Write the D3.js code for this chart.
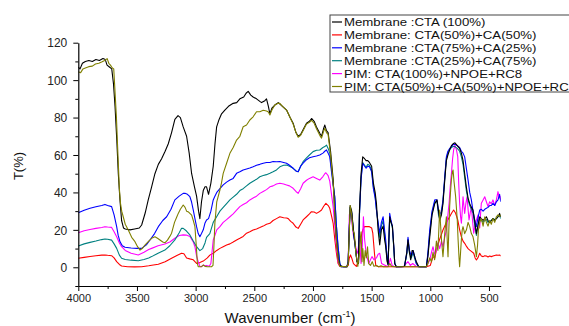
<!DOCTYPE html>
<html>
<head>
<meta charset="utf-8">
<script src="https://cdn.jsdelivr.net/npm/d3@7"></script>
<style>
  body { margin: 0; background: #fff; }
  svg { display: block; font-family: "Liberation Sans", Arial, sans-serif; }
</style>
</head>
<body>
<div id="chart"></div>
<script>
// FTIR spectra, [wavenumber, T%]
const cta100 = [[4000,107],[3985,106],[3965,109],[3940,110],[3910,110.5],[3880,110],[3850,111],[3820,110.5],[3790,111.5],[3770,111],[3755,108],[3735,107],[3715,106],[3700,98],[3687,86],[3672,68],[3659,50],[3645,36],[3631,25],[3615,21],[3600,20.5],[3560,20],[3520,20.5],[3480,21],[3460,22.6],[3430,29],[3404,36],[3375,43],[3347,50],[3318,55],[3290,58],[3260,62],[3233,66],[3205,72],[3177,79],[3150,81],[3130,80],[3106,75],[3077,70],[3055,61],[3034,50],[3010,43],[2992,38],[2975,30],[2964,26],[2950,35],[2935,41],[2920,43],[2907,43],[2890,39],[2870,45],[2850,54],[2835,66],[2821,75],[2800,79],[2779,82],[2751,84],[2720,86],[2680,87.6],[2650,88],[2623,90],[2590,91],[2570,93],[2552,94],[2530,92],[2510,91],[2481,90],[2450,88.5],[2438,88],[2410,89],[2396,90],[2380,86],[2367,82],[2350,85],[2325,86.7],[2296,88],[2260,86],[2225,84],[2195,80],[2169,77],[2145,72],[2126,70],[2105,71],[2080,74],[2055,77],[2030,78],[2012,79.5],[1990,78],[1970,75],[1942,71.6],[1927,70],[1910,74],[1899,76],[1885,73],[1871,72],[1850,62],[1828,47],[1815,30],[1800,15],[1785,5],[1771,1],[1740,0.3],[1710,0.3],[1700,2],[1690,20],[1683,33],[1670,30],[1655,20],[1640,12],[1625,3],[1612,2],[1604,30],[1590,50],[1576,59],[1560,58],[1547,57],[1533,57],[1519,56],[1500,54],[1485,45],[1470,40],[1459,34],[1445,20],[1431,12],[1417,20],[1402,22],[1390,15],[1380,11],[1368,3],[1360,1.5],[1346,27],[1335,24],[1323,22],[1310,10],[1303,2],[1290,0.3],[1250,0.3],[1220,0.5],[1200,8],[1190,14.6],[1178,8],[1167,4],[1155,9],[1147,9],[1130,5],[1119,3],[1100,0.5],[1090,0.3],[1033,0.3],[1020,6],[1005,16],[985,28],[962,34],[943,36],[930,30],[920,25],[905,28],[892,34],[875,48],[863,57],[850,60],[835,62.7],[820,65],[806,66],[790,66.5],[770,65],[750,63.5],[735,61],[721,57],[707,50],[693,43],[678,37],[664,34],[650,32],[636,30.6],[620,24],[607,18],[595,22],[579,27],[565,26],[550,25],[536,26],[522,27],[508,25],[494,24],[480,25],[466,26],[451,25],[437,26],[423,27],[409,28.8],[400,27]];

const cta50ca50 = [[4000,4.8],[3950,5.3],[3900,5.8],[3850,6.2],[3800,6.5],[3773,6.6],[3750,6.4],[3716,6.2],[3695,5],[3673,3],[3650,1.5],[3631,0.7],[3580,0.3],[3520,0.2],[3460,0.3],[3400,0.8],[3360,1.2],[3318,1.6],[3260,3],[3205,4.8],[3160,6.3],[3120,7.5],[3100,7.2],[3077,5],[3050,4.5],[3020,4],[3006,3],[2992,2.1],[2964,2.5],[2935,3.3],[2900,5],[2879,6.5],[2850,7.5],[2820,9],[2793,10.1],[2765,11],[2736,11.9],[2708,12.5],[2680,13.5],[2651,14.6],[2623,15.5],[2595,16.5],[2566,18.2],[2538,19],[2510,19.9],[2481,20.5],[2453,21.2],[2424,22],[2396,23],[2367,23.5],[2340,25],[2311,26],[2282,27],[2250,26.5],[2225,26.3],[2211,26],[2190,24.5],[2169,23.5],[2145,21.5],[2126,20.8],[2105,23],[2084,25.3],[2055,27],[2030,28.5],[2013,29.7],[1990,29.5],[1970,28.8],[1950,29.5],[1927,30.6],[1910,32.5],[1890,34.2],[1870,33],[1857,31.5],[1840,27],[1828,23.5],[1814,15],[1800,7.5],[1786,2],[1771,0.5],[1720,0.3],[1700,1],[1690,5],[1680,6.6],[1670,5],[1655,2],[1630,0.5],[1615,3],[1604,12],[1590,16],[1575,20],[1562,21.7],[1540,21.7],[1519,21.7],[1500,21],[1490,18.2],[1476,7.5],[1465,1],[1440,0.3],[1300,0.3],[1033,0.3],[1000,1],[990,3],[977,5.7],[962,5],[948,9.2],[920,15],[892,19.9],[863,24],[835,27],[818,29],[801,30.6],[785,29],[766,25.3],[750,20],[735,16.3],[721,14],[707,12.8],[690,11],[678,10],[664,9.2],[650,8.5],[630,7.5],[618,5],[607,3.9],[595,5],[579,7.5],[565,6],[550,5.7],[536,6.2],[522,6],[508,5.5],[494,6],[480,5.7],[466,6],[451,6.3],[437,6.6],[423,6.4],[409,6.6],[400,6]];

const cta75ca25 = [[4000,29.2],[3950,30.5],[3900,31.5],[3850,32.3],[3800,33],[3773,33.6],[3750,33],[3716,32.4],[3695,28],[3673,21.7],[3660,17],[3645,13.7],[3625,11.5],[3602,10.7],[3550,10.3],[3500,10.1],[3460,10.1],[3420,12],[3389,14.6],[3350,18],[3318,21.7],[3280,25],[3247,27],[3210,31],[3177,36],[3140,38],[3106,39.5],[3091,39.5],[3070,39],[3049,37.7],[3035,35],[3020,30.6],[3006,26],[2992,21.7],[2978,18],[2964,16.3],[2950,18],[2935,20],[2921,23.5],[2907,25.3],[2890,26],[2870,30],[2850,36],[2836,38],[2820,40],[2793,42],[2765,44],[2736,45.5],[2708,46.6],[2680,47.5],[2651,50.2],[2623,51],[2595,52],[2566,52.5],[2538,53],[2510,53.7],[2481,54.5],[2453,55],[2424,55.6],[2396,56],[2367,56],[2340,56.5],[2311,56.4],[2282,56.5],[2250,56],[2225,55.6],[2200,54.5],[2169,52.9],[2145,51.5],[2126,51.1],[2105,54],[2084,55.6],[2055,57.5],[2030,58.5],[1999,59.1],[1970,59.5],[1942,60],[1915,61],[1899,62],[1885,62.7],[1871,61],[1857,59],[1840,50],[1828,44],[1814,37.7],[1800,22],[1786,11],[1771,2],[1760,0.3],[1710,0.3],[1700,3],[1690,22],[1683,32],[1670,29],[1655,19],[1640,11],[1625,3],[1612,2],[1604,28],[1590,47],[1576,55.6],[1560,54],[1547,52.9],[1533,54],[1519,53.8],[1500,51],[1485,42],[1470,37],[1459,30.6],[1445,24],[1431,18.3],[1417,24],[1402,27],[1390,20],[1380,14.6],[1368,5],[1360,1.5],[1346,28.8],[1335,25],[1323,22],[1310,10],[1303,2],[1290,0.3],[1220,0.5],[1200,8],[1190,16],[1178,9],[1161,6],[1147,9],[1130,5],[1119,2],[1100,0.3],[1033,0.3],[1020,8],[1005,19.9],[985,30],[962,36],[943,36],[930,30],[920,28],[905,30],[892,36],[875,50],[863,59],[850,62],[835,63.5],[820,64.4],[806,65.5],[790,65.8],[770,65],[750,64],[735,62],[721,61],[707,59],[693,53],[678,46.6],[664,40],[650,36],[636,30],[620,25],[607,21.7],[595,26],[579,30.6],[565,31],[550,30],[536,31],[522,31.5],[508,32],[494,33],[480,33],[466,34.2],[451,33],[437,35],[423,36],[409,39],[400,35]];

const cta25ca75 = [[4000,11.4],[3950,12.5],[3900,13.3],[3850,14],[3800,14.8],[3773,15.1],[3750,15],[3716,14.5],[3695,12.5],[3673,10.1],[3650,6.5],[3631,4.8],[3600,4.2],[3550,3.8],[3489,3.5],[3440,4.2],[3400,5],[3375,5.7],[3320,7.5],[3262,9.2],[3220,11.5],[3177,14.6],[3140,18.5],[3120,20.8],[3106,20.8],[3080,19.5],[3049,17.3],[3020,14],[2992,11],[2964,8.9],[2940,10],[2920,13],[2907,16],[2879,18],[2850,24],[2821,27],[2793,30],[2765,32],[2736,34],[2708,36],[2680,37.5],[2651,39],[2623,41],[2595,42],[2566,43.5],[2538,44.9],[2510,46],[2481,47],[2453,48.4],[2424,49],[2396,49.5],[2367,50.2],[2340,51],[2311,52],[2282,53.7],[2250,54.5],[2225,54.6],[2200,54],[2169,52.9],[2145,51.5],[2126,51.1],[2105,54],[2084,56.4],[2055,58.5],[2030,60],[1999,61.8],[1970,62.5],[1942,62.7],[1915,64],[1899,64.5],[1885,65.3],[1871,63.5],[1857,61],[1840,52],[1828,45],[1814,37],[1800,22],[1786,11],[1771,2],[1760,0.3],[1710,0.3],[1700,3],[1690,21],[1683,32],[1670,29],[1655,19],[1640,11],[1625,3],[1612,2],[1604,28],[1590,48],[1576,56],[1560,54.5],[1547,53.5],[1533,55],[1519,54.5],[1500,52],[1485,43],[1470,38],[1459,31],[1445,23],[1431,16],[1417,22],[1402,25],[1390,18],[1380,12],[1368,4],[1360,1.5],[1346,27],[1335,24],[1323,21],[1310,9],[1303,2],[1290,0.3],[1220,0.5],[1200,7],[1190,15],[1178,8],[1161,5],[1147,8],[1130,4],[1119,2],[1100,0.3],[1033,0.3],[1020,7],[1005,18],[985,29],[962,35],[943,35],[930,28],[920,26],[905,29],[892,35],[875,49],[863,58],[850,61],[835,63],[820,64],[806,64.5],[790,64.5],[770,63.5],[750,62],[735,59],[721,55],[707,48],[693,41],[678,36],[664,33],[650,31],[636,29],[620,22],[607,17],[595,22],[579,26],[565,25],[550,24],[536,25],[522,25.5],[508,24],[494,24.5],[480,25],[466,26],[451,25.5],[437,26],[423,27],[409,28],[400,26]];

const pimCta100 = [[4000,18.5],[3950,19.5],[3900,20.2],[3850,20.8],[3800,21.3],[3773,21.7],[3750,21.5],[3716,21.3],[3695,19],[3673,16.3],[3650,13],[3631,11],[3600,9],[3550,7.5],[3489,6.6],[3440,8],[3400,9.5],[3375,10.1],[3320,11.5],[3262,12.4],[3220,13.5],[3177,15.5],[3140,17],[3106,17.3],[3080,17.2],[3049,16.5],[3020,13.5],[3006,11],[2992,6],[2978,3],[2964,0.5],[2950,0.3],[2935,1.2],[2920,0.8],[2907,1],[2885,0.5],[2870,2],[2850,14.6],[2836,17],[2820,20],[2793,21.7],[2765,24],[2736,25.5],[2708,27],[2680,28.5],[2651,30.5],[2623,32.4],[2595,33.5],[2566,34.5],[2538,36],[2510,37],[2481,38],[2453,39.5],[2424,40.5],[2396,41.5],[2367,43],[2340,43.5],[2311,44.5],[2282,44.9],[2250,44.5],[2225,44],[2200,43.5],[2169,42.2],[2145,40.5],[2126,39.5],[2105,42],[2084,44.9],[2055,46.5],[2030,47.5],[1999,48.4],[1970,47.5],[1942,46.6],[1915,48.5],[1899,50],[1890,50.5],[1871,49],[1857,46],[1840,38],[1828,32.4],[1814,22],[1800,11],[1786,3],[1771,0.5],[1710,0.3],[1700,3],[1690,28],[1683,30.6],[1670,25],[1655,17],[1647,14.6],[1630,9],[1618,7.5],[1604,16.3],[1590,2],[1580,10],[1570,27],[1560,15],[1547,7.5],[1525,2],[1510,4],[1497,5.7],[1480,4],[1459,5],[1445,7],[1431,7.5],[1415,2],[1400,1.5],[1370,0.5],[1355,1],[1340,4.8],[1325,1],[1300,0.3],[1230,0.3],[1190,3],[1170,1],[1150,2],[1120,0.5],[1033,0.3],[1020,2],[1005,3.9],[990,8],[977,11],[963,7],[948,9],[935,13],[920,10],[905,14],[892,11],[877,16],[863,19.9],[850,28],[840,34.2],[830,43],[820,50.2],[810,58],[801,62.7],[790,65.3],[778,63],[766,59.1],[758,45],[750,34.2],[742,27],[735,23.5],[728,30],[721,37.7],[714,33],[707,28.8],[697,34],[687,37.7],[678,31],[670,25.3],[660,29],[650,32.4],[640,25],[630,18.2],[620,22],[607,25.3],[593,28],[579,21],[572,28],[565,34.2],[550,36],[536,37.7],[522,35],[508,32.4],[494,35],[480,34],[466,36],[451,33],[437,36],[423,40.4],[413,37],[405,38],[400,36]];

const pimCta50ca50 = [[4000,104.5],[3980,104],[3960,106],[3940,106.5],[3911,107.2],[3880,107.5],[3854,108.6],[3825,109],[3797,109.8],[3775,110.5],[3754,111.5],[3740,109],[3726,108],[3710,106.5],[3698,106],[3688,95],[3675,80],[3662,60],[3650,42],[3640,34],[3630,30],[3617,27],[3600,23],[3574,19.9],[3545,16],[3517,13.7],[3495,11],[3474,9.2],[3455,10],[3432,11.9],[3400,14],[3375,15.5],[3347,16.3],[3325,15.5],[3304,14.6],[3280,13.5],[3262,13.1],[3240,14.5],[3220,16.5],[3205,18.2],[3180,24],[3160,27],[3148,28.8],[3130,31],[3106,33.3],[3090,32],[3077,30],[3060,29.5],[3034,27.9],[3020,25],[3006,21.7],[2995,12],[2985,2],[2978,0.3],[2950,0.3],[2935,1.2],[2920,0.5],[2900,0.3],[2865,0.3],[2852,1],[2845,10],[2836,23.5],[2820,35],[2793,41.3],[2780,45],[2765,50.2],[2736,55.6],[2708,60.9],[2680,64],[2651,68],[2623,70],[2595,75.1],[2566,76],[2538,78.7],[2510,80.4],[2481,83.1],[2453,83.1],[2424,83.9],[2396,83.5],[2380,83],[2367,81.4],[2350,84],[2325,86.7],[2296,87.6],[2282,87.6],[2260,86],[2225,84],[2195,80],[2169,76.5],[2145,72],[2126,69.5],[2105,70.5],[2080,73.5],[2055,76.5],[2030,77.5],[2012,78.5],[1990,77],[1970,74],[1942,70.5],[1927,69],[1910,72.5],[1899,74.3],[1885,72],[1871,71],[1850,60],[1828,45],[1815,30],[1800,14],[1785,4],[1771,0.5],[1710,0.3],[1700,2],[1690,20],[1683,33],[1670,28],[1660,20],[1647,17.9],[1635,8],[1618,0.5],[1604,7.5],[1597,15],[1590,19],[1582,3],[1575,10],[1565,1],[1555,9],[1545,5],[1535,11],[1525,2],[1510,1],[1495,3],[1480,0.5],[1460,1],[1440,0.3],[1420,0.8],[1400,0.3],[1360,0.3],[1345,2],[1330,0.5],[1300,0.3],[1033,0.3],[1020,2],[1005,5],[990,3],[977,8],[963,4],[948,14],[935,9],[920,30.6],[905,15],[892,5.7],[877,18],[863,27],[856,15],[849,5.7],[842,20],[835,32.4],[828,40],[820,47],[812,51],[806,52],[798,46],[784,37.7],[770,25],[763,14.6],[755,5],[750,0.3],[742,8],[735,15],[728,20],[721,21.7],[707,18],[692,20],[678,24],[664,21.7],[650,18],[636,16.3],[622,12],[607,5.7],[597,12],[590,20],[579,24],[565,26],[550,22],[536,27],[522,24],[508,22],[494,25],[480,23],[466,26],[451,24],[437,27],[423,28],[409,27],[400,28]];

const seriesNames = [
  'Membrane :CTA (100%)',
  'Membrane: CTA(50%)+CA(50%)',
  'Membrane :CTA(75%)+CA(25%)',
  'Membrane :CTA(25%)+CA(75%)',
  'PIM: CTA(100%)+NPOE+RC8',
  'PIM: CTA(50%)+CA(50%)+NPOE+RC'
];
const seriesData = [cta100, cta50ca50, cta75ca25, cta25ca75, pimCta100, pimCta50ca50];
const seriesColors = ['#000000', '#ff0000', '#0000ff', '#008080', '#ff00ff', '#808000'];

const xTicks = [4000, 3500, 3000, 2500, 2000, 1500, 1000, 500];
const xMinor = [3750, 3250, 2750, 2250, 1750, 1250, 750];
const yTicks = [0, 20, 40, 60, 80, 100, 120];
const yMinor = [-10, 10, 30, 50, 70, 90, 110];

const width = 569, height = 326;

const svg = d3.select('#chart').append('svg')
  .attr('width', width)
  .attr('height', height);

const x = d3.scaleLinear().domain([4000, 400]).range([78.3, 500.7]);
const y = d3.scaleLinear().domain([-10, 120]).range([286, 42.7]);

svg.append('defs').append('clipPath').attr('id', 'plot')
  .append('rect')
  .attr('x', x(4000)).attr('y', y(120) - 2)
  .attr('width', x(400) - x(4000)).attr('height', y(-10) - y(120) + 2);

const line = d3.line()
  .x(d => x(d[0]))
  .y(d => y(d[1]));

// draw order so black/olive sit on top like the picture
const order = [1, 4, 3, 2, 0, 5];
svg.append('g').attr('clip-path', 'url(#plot)')
  .selectAll('path')
  .data(order)
  .enter()
  .append('path')
  .attr('d', i => line(seriesData[i]))
  .attr('fill', 'none')
  .attr('stroke', i => seriesColors[i])
  .attr('stroke-width', 1.1)
  .attr('stroke-linejoin', 'round');

// axes
const xAxis = svg.append('g')
  .attr('transform', `translate(0,${y(-10)})`)
  .call(d3.axisBottom(x).tickValues(xTicks).tickSize(5).tickSizeOuter(0).tickPadding(3).tickFormat(d3.format('d')));
svg.append('g')
  .attr('transform', `translate(0,${y(-10)})`)
  .call(d3.axisBottom(x).tickValues(xMinor).tickSize(3).tickSizeOuter(0).tickFormat(''))
  .select('.domain').remove();

const yAxis = svg.append('g')
  .attr('transform', `translate(${x(4000)},0)`)
  .call(d3.axisLeft(y).tickValues(yTicks).tickSize(5).tickSizeOuter(0).tickPadding(6));
svg.append('g')
  .attr('transform', `translate(${x(4000)},0)`)
  .call(d3.axisLeft(y).tickValues(yMinor).tickSize(3).tickSizeOuter(0).tickFormat(''))
  .select('.domain').remove();

svg.selectAll('.domain').attr('stroke', '#000').attr('stroke-width', 1.2);
svg.selectAll('.tick line').attr('stroke', '#000');
xAxis.selectAll('text').style('font-size', '11px').attr('fill', '#222');
yAxis.selectAll('text').style('font-size', '12px').attr('fill', '#222').attr('dy', '0.35em');
svg.selectAll('.tick text').style('font-family', '"Liberation Sans", Arial, sans-serif');

// axis titles
const xTitle = svg.append('text')
  .attr('x', 290)
  .attr('y', 323)
  .attr('text-anchor', 'middle')
  .style('font-size', '15px')
  .attr('fill', '#111');
xTitle.append('tspan').text('Wavenumber (cm');
xTitle.append('tspan').attr('dy', -6).style('font-size', '9px').text('-1');
xTitle.append('tspan').attr('dy', 6).text(')');

svg.append('text')
  .attr('transform', `translate(23,${166}) rotate(-90)`)
  .attr('text-anchor', 'middle')
  .style('font-size', '13px')
  .attr('fill', '#111')
  .text('T(%)');

// legend
const legend = svg.append('g').attr('transform', 'translate(330,15)');
legend.append('rect')
  .attr('x', 0).attr('y', 0)
  .attr('width', 260).attr('height', 77)
  .attr('fill', '#fff')
  .attr('stroke', '#444')
  .attr('stroke-width', 1);

legend.selectAll(null)
  .data(seriesNames)
  .enter()
  .append('g')
  .attr('transform', (d, i) => `translate(0, ${7 + i * 12.9})`)
  .each(function(d, i) {
    d3.select(this).append('line')
      .attr('x1', 2).attr('x2', 12)
      .attr('y1', 0).attr('y2', 0)
      .attr('stroke', seriesColors[i])
      .attr('stroke-width', 1.2);
    // text in the picture is a little wider than plain Arial
    d3.select(this).append('text')
      .attr('transform', 'translate(14,4) scale(1.16,1)')
      .style('font-size', '11.4px')
      .attr('fill', '#111')
      .text(d);
  });
</script>
</body>
</html>
